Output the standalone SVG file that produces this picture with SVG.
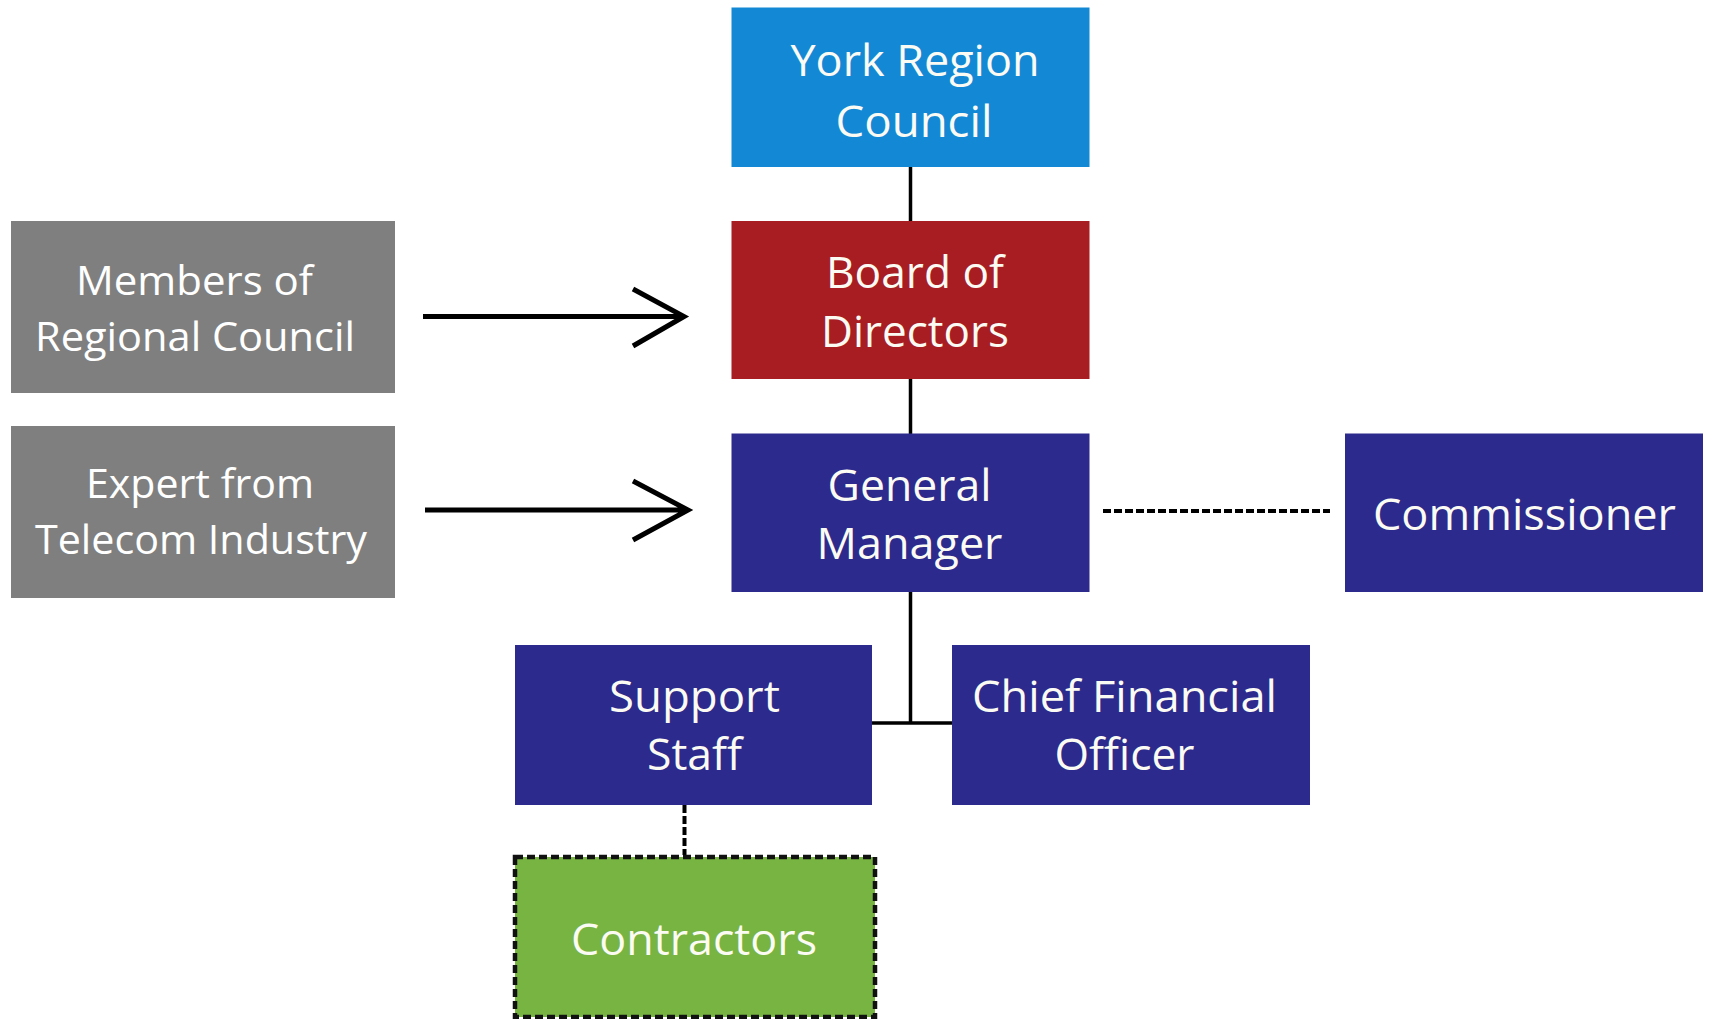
<svg xmlns="http://www.w3.org/2000/svg" width="1712" height="1019" viewBox="0 0 1712 1019">
<style>
.box{stroke:none}
.t{font-family:"Open Sans","Noto Sans",sans-serif;fill:#fbfbf3;text-anchor:middle;font-size:43px}
.c{font-family:"Open Sans","Noto Sans",sans-serif;fill:#ffffff;text-anchor:middle;font-size:41px}
.conn{stroke:#000;stroke-width:3.5;fill:none}
.arr{stroke:#000;stroke-width:5;fill:none}
.dash{stroke:#000;stroke-width:4;fill:none;stroke-dasharray:8 3}
</style>
<rect width="1712" height="1019" fill="#ffffff"/>
<g id="connectors">
<line class="conn" x1="910.5" y1="167" x2="910.5" y2="221"/>
<line class="conn" x1="910.5" y1="379" x2="910.5" y2="434"/>
<line class="conn" x1="910.5" y1="592" x2="910.5" y2="723"/>
<line class="conn" x1="872" y1="723" x2="952" y2="723"/>
<line class="dash" x1="1103" y1="511" x2="1330" y2="511"/>
<line class="dash" x1="684.5" y1="805" x2="684.5" y2="855"/>
<path class="arr" d="M423 316.5 H684 M633 289 L684 316.5 L633 346"/>
<path class="arr" d="M425 510 H688 M633 481 L688 510 L633 540"/>
</g>
<g id="york">
<rect class="box" x="731.5" y="7.5" width="358" height="159.5" fill="#1389d6"/>
<text class="t" x="915" y="76" textLength="249" lengthAdjust="spacingAndGlyphs">York Region</text>
<text class="t" x="914" y="136.5" textLength="157" lengthAdjust="spacingAndGlyphs">Council</text>
</g>
<g id="board">
<rect class="box" x="731.5" y="221" width="358" height="158" fill="#a81d22"/>
<text class="t" x="915" y="288" textLength="178" lengthAdjust="spacingAndGlyphs">Board of</text>
<text class="t" x="915" y="347" textLength="188" lengthAdjust="spacingAndGlyphs">Directors</text>
</g>
<g id="gm">
<rect class="box" x="731.5" y="433.5" width="358" height="158.5" fill="#2c2a8c"/>
<text class="t" x="909.5" y="501" textLength="164" lengthAdjust="spacingAndGlyphs">General</text>
<text class="t" x="909.5" y="559" textLength="186" lengthAdjust="spacingAndGlyphs">Manager</text>
</g>
<g id="commissioner">
<rect class="box" x="1345" y="433.5" width="358" height="158.5" fill="#2c2a8c"/>
<text class="t" x="1524.5" y="530" textLength="303" lengthAdjust="spacingAndGlyphs">Commissioner</text>
</g>
<g id="support">
<rect class="box" x="515" y="645" width="357" height="160" fill="#2c2a8c"/>
<text class="t" x="694.5" y="712" textLength="171" lengthAdjust="spacingAndGlyphs">Support</text>
<text class="t" x="694.5" y="770" textLength="95" lengthAdjust="spacingAndGlyphs">Staff</text>
</g>
<g id="cfo">
<rect class="box" x="952" y="645" width="358" height="160" fill="#2c2a8c"/>
<text class="t" x="1124.5" y="712" textLength="305" lengthAdjust="spacingAndGlyphs">Chief Financial</text>
<text class="t" x="1124.5" y="770" textLength="140" lengthAdjust="spacingAndGlyphs">Officer</text>
</g>
<g id="contractors">
<rect x="515" y="857" width="360" height="160" fill="#78b442" stroke="#111" stroke-width="4.5" stroke-dasharray="8 4"/>
<text class="t" x="694" y="955" textLength="246" lengthAdjust="spacingAndGlyphs" fill="#f4fbe6">Contractors</text>
</g>
<g id="members">
<rect class="box" x="11" y="221" width="384" height="172" fill="#7f7f7f"/>
<text class="c" x="194.5" y="295" textLength="237" lengthAdjust="spacingAndGlyphs">Members of</text>
<text class="c" x="195" y="351" textLength="320" lengthAdjust="spacingAndGlyphs">Regional Council</text>
</g>
<g id="expert">
<rect class="box" x="11" y="426" width="384" height="172" fill="#7f7f7f"/>
<text class="c" x="200" y="498" textLength="228" lengthAdjust="spacingAndGlyphs">Expert from</text>
<text class="c" x="201" y="554" textLength="332" lengthAdjust="spacingAndGlyphs">Telecom Industry</text>
</g>
</svg>
